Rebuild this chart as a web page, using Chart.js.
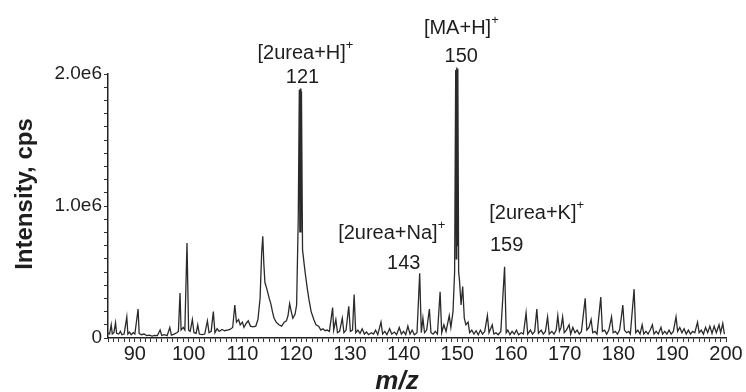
<!DOCTYPE html>
<html>
<head>
<meta charset="utf-8">
<script src="https://cdn.jsdelivr.net/npm/chart.js@4/dist/chart.umd.min.js"></script>
<style>
  body { margin: 0; background: #fff; }
  canvas { display: block; }
</style>
</head>
<body>
<canvas id="spectrum" width="746" height="392"></canvas>
<script>
// m/z positions of the trace points
const mz = [
  84.9, 85.3, 85.6, 85.8, 86.1, 86.4, 86.6, 87.0, 87.3, 87.6, 88.0, 88.5, 88.7, 89.0, 89.3, 89.7,
  90.0, 90.6, 90.8, 91.2, 91.7, 92.2, 92.7, 93.2, 93.7, 94.2, 94.7, 95.0, 95.5, 96.0, 96.5, 96.8,
  97.3, 97.8, 98.1, 98.4, 98.6, 99.0, 99.3, 99.7, 100.0, 100.3, 100.7, 101.0, 101.4, 101.7, 102.0,
  102.5, 103.0, 103.5, 103.8, 104.2, 104.6, 104.9, 105.3, 105.7, 106.2, 106.7, 107.2, 107.7, 108.2,
  108.6, 108.9, 109.3, 109.6, 110.0, 110.3, 110.7, 111.1, 111.5, 112.0, 112.5, 112.9, 113.3, 113.6,
  113.8, 114.0, 114.2, 114.5, 114.7, 115.0, 115.3, 115.6, 115.9, 116.3, 116.8, 117.3, 117.8, 118.2,
  118.5, 118.8, 119.1, 119.4, 119.8, 120.1, 120.4, 120.6, 120.7, 120.8, 120.9, 121.0, 121.2, 121.5,
  121.8, 122.1, 122.4, 122.8, 123.3, 123.7, 124.2, 124.6, 125.0, 125.4, 125.8, 126.2, 126.8, 127.0,
  127.4, 127.7, 128.1, 128.6, 128.9, 129.3, 129.8, 130.1, 130.5, 130.8, 131.1, 131.5, 131.9, 132.3,
  132.7, 133.1, 133.5, 134.0, 134.4, 134.8, 135.2, 135.8, 136.1, 136.5, 136.9, 137.4, 137.8, 138.3,
  138.7, 139.2, 139.6, 140.0, 140.4, 140.8, 141.2, 141.6, 142.0, 142.5, 143.0, 143.3, 143.6, 143.9,
  144.3, 144.8, 145.1, 145.5, 145.9, 146.3, 146.8, 147.1, 147.5, 147.9, 148.5, 148.8, 149.2, 149.5,
  149.7, 149.8, 149.9, 150.0, 150.1, 150.25, 150.4, 150.7, 151.0, 151.3, 151.6, 152.0, 152.3, 152.7,
  153.1, 153.5, 153.9, 154.3, 154.7, 155.1, 155.6, 155.9, 156.5, 156.8, 157.2, 157.6, 158.1, 158.8,
  159.1, 159.4, 159.8, 160.2, 160.6, 161.0, 161.4, 161.9, 162.3, 162.8, 163.1, 163.6, 164.0, 164.4,
  164.8, 165.1, 165.6, 166.0, 166.4, 166.8, 167.1, 167.6, 168.0, 168.4, 168.7, 169.0, 169.3, 169.6,
  169.9, 170.3, 170.8, 171.1, 171.5, 171.9, 172.3, 172.7, 173.1, 173.8, 174.1, 174.5, 174.9, 175.2,
  175.6, 176.0, 176.7, 177.0, 177.4, 177.8, 178.2, 178.7, 179.0, 179.4, 179.8, 180.2, 180.5, 180.8,
  181.1, 181.5, 181.9, 182.2, 182.9, 183.2, 183.6, 184.0, 184.4, 184.7, 185.1, 185.5, 185.9, 186.3,
  186.6, 187.0, 187.4, 187.9, 188.2, 188.6, 189.0, 189.4, 189.8, 190.2, 190.7, 191.0, 191.4, 191.8,
  192.2, 192.6, 193.0, 193.4, 193.8, 194.2, 194.7, 195.0, 195.4, 195.8, 196.2, 196.6, 197.0, 197.4,
  197.8, 198.2, 198.7, 199.0, 199.4, 199.7
];

// intensity (cps) at each m/z point
const intensity = [
  40000, 30000, 100000, 30000, 40000, 115000, 35000, 30000, 50000, 25000, 30000, 160000, 30000, 45000, 25000, 40000,
  30000, 220000, 35000, 25000, 30000, 18000, 22000, 15000, 20000, 18000, 60000, 20000, 25000, 18000, 80000, 22000,
  30000, 40000, 50000, 340000, 60000, 80000, 60000, 720000, 60000, 50000, 140000, 40000, 35000, 100000, 30000,
  25000, 30000, 130000, 40000, 50000, 200000, 40000, 70000, 50000, 65000, 55000, 60000, 65000, 80000,
  250000, 120000, 140000, 100000, 120000, 80000, 110000, 130000, 90000, 85000, 90000, 140000, 300000, 650000,
  770000, 560000, 420000, 380000, 350000, 300000, 260000, 200000, 150000, 120000, 100000, 90000, 120000, 130000,
  170000, 260000, 200000, 150000, 180000, 250000, 900000, 1880000, 800000, 1890000, 800000, 1870000, 670000, 560000,
  460000, 370000, 290000, 200000, 140000, 100000, 90000, 60000, 70000, 55000, 60000, 50000, 230000, 60000,
  140000, 40000, 50000, 150000, 40000, 60000, 240000, 50000, 60000, 330000, 40000, 60000, 35000, 70000,
  30000, 45000, 25000, 40000, 30000, 60000, 25000, 120000, 30000, 50000, 25000, 70000, 30000, 45000,
  25000, 80000, 30000, 50000, 25000, 90000, 30000, 60000, 25000, 40000, 490000, 40000, 150000, 40000,
  60000, 220000, 40000, 30000, 50000, 30000, 350000, 40000, 100000, 50000, 170000, 80000, 200000, 500000,
  2030000, 600000, 2050000, 700000, 2040000, 500000, 440000, 250000, 390000, 150000, 100000, 120000, 40000, 60000,
  30000, 55000, 25000, 60000, 30000, 50000, 170000, 40000, 100000, 30000, 40000, 25000, 50000, 540000,
  40000, 60000, 25000, 50000, 30000, 60000, 25000, 40000, 30000, 190000, 30000, 60000, 30000, 50000,
  220000, 35000, 60000, 30000, 50000, 160000, 30000, 50000, 30000, 60000, 170000, 50000, 80000, 160000,
  40000, 60000, 100000, 30000, 80000, 40000, 60000, 30000, 50000, 300000, 60000, 80000, 140000, 40000,
  50000, 30000, 310000, 50000, 60000, 30000, 60000, 160000, 40000, 50000, 30000, 60000, 150000, 250000,
  60000, 40000, 50000, 30000, 370000, 40000, 60000, 30000, 100000, 30000, 50000, 30000, 60000, 100000,
  30000, 50000, 30000, 80000, 30000, 50000, 30000, 60000, 30000, 50000, 160000, 50000, 80000, 40000,
  70000, 30000, 60000, 30000, 50000, 40000, 120000, 40000, 60000, 30000, 80000, 40000, 90000, 35000,
  90000, 40000, 100000, 40000, 110000, 30000
];

// y tick labels (only these are printed, the other ticks are bare)
const yLabelValues = [0, 1000000, 2000000];
const yLabelText = ["0", "1.0e6", "2.0e6"];

// annotated peaks
const peakMz = [121, 150, 143, 159];
const peakTop = [1890000, 2050000, 490000, 540000];
const peakIon = ["[2urea+H]", "[MA+H]", "[2urea+Na]", "[2urea+K]"];

const FONT = '"Liberation Sans", Arial, Helvetica, sans-serif';
const INK = "#1e1e1e";

// label placement relative to each peak top: [dx number, dy number, dx ion, dy ion]
const labelShift = [
  [1, -11, 4, -35],
  [4, -11, 4, -39],
  [-16, -10, -28, -40],
  [1, -21, 31, -53]
];

const peakLabels = {
  id: "peakLabels",
  afterDatasetsDraw(chart) {
    const { ctx, scales: { x, y } } = chart;
    ctx.save();
    ctx.fillStyle = INK;
    ctx.textBaseline = "middle";
    peakMz.forEach((m, i) => {
      const px = x.getPixelForValue(m);
      const py = y.getPixelForValue(peakTop[i]);
      const s = labelShift[i];

      ctx.font = "20px " + FONT;
      ctx.textAlign = "center";
      ctx.fillText(String(m), px + s[0], py + s[1]);

      // ion name with a small superscript +
      const w = ctx.measureText(peakIon[i]).width;
      ctx.font = "13px " + FONT;
      const sw = ctx.measureText("+").width;
      const left = px + s[2] - (w + sw) / 2;
      ctx.font = "20px " + FONT;
      ctx.textAlign = "left";
      ctx.fillText(peakIon[i], left, py + s[3]);
      ctx.font = "13px " + FONT;
      ctx.fillText("+", left + w, py + s[3] - 8);
    });
    ctx.restore();
  }
};

// axis titles, placed by hand like in the figure
const axisTitles = {
  id: "axisTitles",
  afterDraw(chart) {
    const ctx = chart.ctx;
    ctx.save();
    ctx.fillStyle = INK;
    ctx.textAlign = "center";
    ctx.textBaseline = "alphabetic";
    ctx.font = "italic bold 26px " + FONT;
    ctx.fillText("m/z", 397, 389);

    ctx.translate(32, 194);
    ctx.rotate(-Math.PI / 2);
    ctx.font = "bold 24px " + FONT;
    ctx.fillText("Intensity, cps", 0, 0);
    ctx.restore();
  }
};

const points = mz.map((m, i) => ({ x: m, y: intensity[i] }));

new Chart(document.getElementById("spectrum"), {
  type: "line",
  data: {
    datasets: [{
      data: points,
      borderColor: "#2a2a2a",
      borderWidth: 1.3,
      pointRadius: 0,
      tension: 0,
      fill: false,
      clip: false
    }]
  },
  options: {
    responsive: false,
    animation: false,
    layout: { padding: { left: 0, right: 20, top: 74, bottom: 0 } },
    plugins: {
      legend: { display: false },
      tooltip: { enabled: false }
    },
    scales: {
      x: {
        type: "linear",
        min: 85,
        max: 200,
        ticks: {
          stepSize: 1,
          autoSkip: false,
          maxRotation: 0,
          padding: 0,
          color: INK,
          font: { family: FONT, size: 20 },
          callback: v => (v % 10 === 0 ? String(v) : "")
        },
        grid: { display: true, drawOnChartArea: false, drawTicks: true, tickLength: 4, tickColor: "#333" },
        border: { display: true, color: "#222", width: 1.5 },
        afterFit(scale) { scale.height = 54; }
      },
      y: {
        min: 0,
        max: 2000000,
        ticks: {
          stepSize: 100000,
          autoSkip: false,
          padding: 2,
          color: INK,
          font: { family: FONT, size: 19 },
          callback: v => {
            const k = yLabelValues.indexOf(v);
            return k >= 0 ? yLabelText[k] : "";
          }
        },
        grid: { display: true, drawOnChartArea: false, drawTicks: true, tickLength: 4, tickColor: "#333" },
        border: { display: true, color: "#222", width: 1.5 },
        afterFit(scale) { scale.width = 108; }
      }
    }
  },
  plugins: [peakLabels, axisTitles]
});
</script>
</body>
</html>
